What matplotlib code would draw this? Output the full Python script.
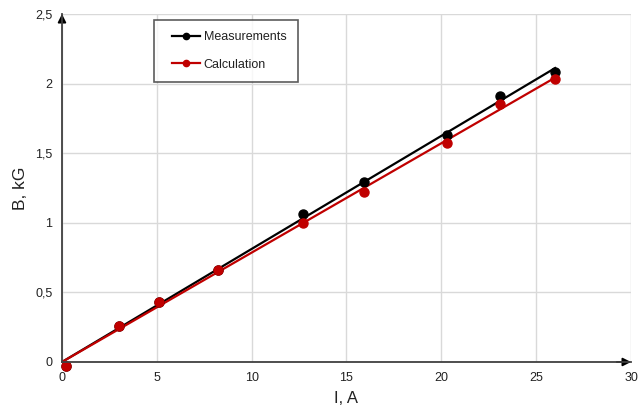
import numpy as np
from matplotlib import pyplot as plt
from matplotlib.ticker import FuncFormatter
from matplotlib.lines import Line2D
from matplotlib.legend_handler import HandlerLine2D

plt.rcParams['font.family'] = ['Liberation Sans', 'DejaVu Sans']

# current, A
current = [0.2, 3.0, 5.1, 8.2, 12.7, 15.9, 20.3, 23.1, 26.0]
# field, kG
measured = [-0.03, 0.26, 0.43, 0.66, 1.06, 1.29, 1.63, 1.91, 2.08]
calculated = [-0.03, 0.26, 0.43, 0.66, 1.00, 1.22, 1.57, 1.855, 2.03]

x_ticks = [0, 5, 10, 15, 20, 25, 30]
y_ticks = [0, 0.5, 1, 1.5, 2, 2.5]


def slope_through_origin(x, y):
    """Least squares slope of a trend line forced through zero."""
    x = np.asarray(x)
    y = np.asarray(y)
    return (x * y).sum() / (x * x).sum()


def comma(v, pos):
    s = '{:g}'.format(v)
    return s.replace('.', ',')


fig = plt.figure(figsize=(6.41, 4.12), dpi=100)
ax = fig.add_axes([0.0967, 0.1214, 0.8877, 0.8447])

xs = np.array([0, max(current)])
for y, color, name in [(measured, 'black', 'Measurements'),
                       (calculated, '#c00000', 'Calculation')]:
    k = slope_through_origin(current, y)
    ax.plot(xs, k * xs, color=color, lw=1.6, zorder=3)
    ax.plot(current, y, 'o', color=color, ms=6.5, zorder=4, clip_on=False)
    # legend proxy
    ax.plot([], [], '-o', color=color, lw=1.6, ms=4.5, label=name)

ax.set_xlim(0, 30)
ax.set_ylim(0, 2.5)
ax.set_xticks(x_ticks)
ax.set_yticks(y_ticks)
ax.yaxis.set_major_formatter(FuncFormatter(comma))
ax.grid(True, color='#d9d9d9', lw=1)
ax.set_axisbelow(True)
ax.tick_params(length=0, labelsize=9, colors='#222222', pad=7)

for side in ['top', 'right']:
    ax.spines[side].set_visible(False)
for side in ['left', 'bottom']:
    ax.spines[side].set_color('#404040')
    ax.spines[side].set_linewidth(1.3)
    ax.spines[side].set_zorder(5)

# arrow heads on the axes
ax.annotate('', xy=(1.005, 0), xytext=(0.97, 0), xycoords='axes fraction',
            arrowprops=dict(arrowstyle='-|>', color='black', lw=1.3,
                            mutation_scale=12), annotation_clip=False)
ax.annotate('', xy=(0, 1.008), xytext=(0, 0.97), xycoords='axes fraction',
            arrowprops=dict(arrowstyle='-|>', color='black', lw=1.3,
                            mutation_scale=12), annotation_clip=False)

ax.set_xlabel('I, A', fontsize=12, color='#222222', labelpad=5)
ax.set_ylabel('B, kG', fontsize=12.5, color='#222222', labelpad=5)

leg = ax.legend(loc='upper left', bbox_to_anchor=(0.162, 0.983),
                fontsize=9, frameon=True, fancybox=False,
                handlelength=2.75, labelspacing=1.25, borderpad=0.9,
                handletextpad=0.3, borderaxespad=0,
                handler_map={Line2D: HandlerLine2D(xpad=0.55)})
leg.get_frame().set_edgecolor('#333333')
leg.get_frame().set_linewidth(1.2)
for t in leg.get_texts():
    t.set_color('#222222')

plt.savefig('out.png', dpi=100)
